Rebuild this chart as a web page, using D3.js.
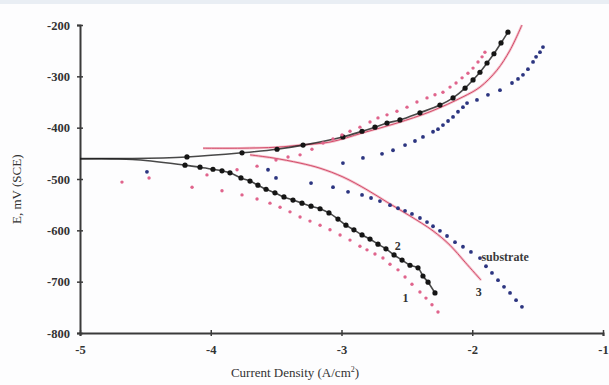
<!DOCTYPE html>
<html>
<head>
<meta charset="utf-8">
<script src="https://cdn.jsdelivr.net/npm/d3@7"></script>
<style>
  html, body { margin: 0; padding: 0; background: #f8fafc; }
  svg { display: block; }
  .tick text { font-family: "Liberation Serif", "Times New Roman", serif; font-weight: bold; font-size: 12.5px; fill: #333; }
</style>
</head>
<body>
<svg id="chart" width="609" height="385"></svg>
<script>
// Potentiodynamic polarization curves: log current density (A/cm²) vs potential (mV vs SCE)
const xTicks = [-5, -4, -3, -2, -1];
const xTickLabels = ["-5", "-4", "-3", "-2", "-1"];
const yTicks = [-200, -300, -400, -500, -600, -700, -800];
const yTickLabels = ["-200", "-300", "-400", "-500", "-600", "-700", "-800"];

// Coating 1 (dots)
const s1Anodic = [[-4.472,-498],[-4.029,-492],[-3.799,-482],[-3.646,-475],[-3.501,-463],[-3.409,-457],[-3.317,-453],[-3.226,-442],[-3.141,-430],[-3.065,-422],[-2.996,-414],[-2.935,-407],[-2.859,-399],[-2.782,-389],[-2.721,-381],[-2.652,-375],[-2.576,-368],[-2.499,-360],[-2.423,-350],[-2.346,-342],[-2.285,-336],[-2.224,-331],[-2.170,-321],[-2.124,-313],[-2.078,-303],[-2.033,-294],[-1.994,-284],[-1.956,-272],[-1.925,-262],[-1.903,-253]];
const s1Cathodic = [[-4.679,-506],[-4.143,-516],[-3.914,-523],[-3.761,-531],[-3.646,-539],[-3.547,-547],[-3.470,-555],[-3.394,-564],[-3.317,-574],[-3.241,-582],[-3.164,-590],[-3.088,-599],[-3.011,-609],[-2.935,-619],[-2.859,-631],[-2.805,-638],[-2.744,-646],[-2.683,-654],[-2.629,-666],[-2.568,-677],[-2.514,-691],[-2.461,-705],[-2.400,-720],[-2.354,-732],[-2.308,-745],[-2.262,-759]];

// Coating 2 (line with markers)
const s2Anodic = [[-5,-460],[-4.6,-460],[-4.182,-457],[-3.761,-449],[-3.493,-442],[-3.294,-434],[-2.989,-418],[-2.843,-407],[-2.744,-399],[-2.652,-391],[-2.553,-385],[-2.400,-371],[-2.247,-356],[-2.147,-342],[-2.055,-323],[-1.994,-307],[-1.941,-292],[-1.887,-274],[-1.834,-256],[-1.780,-235],[-1.727,-214]];
const s2Cathodic = [[-5,-461],[-4.6,-462],[-4.197,-473],[-4.082,-477],[-3.983,-481],[-3.914,-484],[-3.853,-488],[-3.769,-498],[-3.700,-504],[-3.639,-512],[-3.577,-520],[-3.509,-527],[-3.440,-535],[-3.371,-541],[-3.302,-547],[-3.233,-553],[-3.164,-558],[-3.096,-566],[-3.027,-578],[-2.966,-590],[-2.905,-599],[-2.843,-609],[-2.782,-617],[-2.721,-627],[-2.660,-636],[-2.598,-648],[-2.537,-658],[-2.476,-668],[-2.415,-673],[-2.377,-689],[-2.338,-701],[-2.285,-722]];

// Coating 3 (solid line)
const s3Anodic = [[-4.059,-440],[-3.776,-440],[-3.493,-438],[-3.317,-434],[-3.088,-428],[-2.836,-410],[-2.576,-391],[-2.323,-369],[-2.071,-340],[-1.941,-321],[-1.811,-288],[-1.711,-249],[-1.620,-200]];
const s3Cathodic = [[-3.700,-453],[-3.524,-459],[-3.317,-469],[-3.164,-479],[-2.989,-496],[-2.805,-521],[-2.652,-545],[-2.476,-572],[-2.300,-601],[-2.170,-629],[-2.055,-662],[-1.933,-697]];

// Uncoated substrate (dots)
const subAnodic = [[-4.488,-486],[-3.562,-482],[-2.989,-469],[-2.836,-459],[-2.690,-451],[-2.606,-444],[-2.514,-434],[-2.438,-426],[-2.377,-418],[-2.300,-408],[-2.262,-403],[-2.224,-395],[-2.185,-387],[-2.147,-379],[-2.109,-369],[-2.071,-360],[-2.040,-352],[-1.964,-346],[-1.880,-336],[-1.788,-327],[-1.696,-313],[-1.650,-305],[-1.612,-297],[-1.574,-286],[-1.535,-272],[-1.512,-262],[-1.482,-253],[-1.459,-243]];
const subCathodic = [[-3.501,-498],[-3.233,-508],[-3.065,-516],[-2.950,-525],[-2.843,-531],[-2.774,-537],[-2.706,-543],[-2.629,-551],[-2.568,-557],[-2.514,-562],[-2.461,-568],[-2.400,-576],[-2.346,-584],[-2.300,-592],[-2.247,-601],[-2.193,-611],[-2.132,-623],[-2.071,-632],[-2.010,-642],[-1.941,-654],[-1.895,-670],[-1.849,-683],[-1.803,-697],[-1.757,-710],[-1.711,-722],[-1.665,-736],[-1.620,-749]];

const svg = d3.select("#chart");
const W = 609, H = 385;

// soft page tint at the top edge
svg.append("rect").attr("x", 0).attr("y", 0).attr("width", W).attr("height", H).attr("fill", "#fdfdfe");
svg.append("rect").attr("x", 0).attr("y", 0).attr("width", W).attr("height", 4).attr("fill", "#e9eef4");

const x = d3.scaleLinear().domain([-5, -1]).range([80, 603]);
const y = d3.scaleLinear().domain([-800, -200]).range([333, 25]);

const smooth = d3.line().x(d => x(d[0])).y(d => y(d[1])).curve(d3.curveCatmullRom.alpha(0.5));

// Axes
const axisColor = "#3a3a3a";
const yAxis = svg.append("g").attr("transform", `translate(${x(-5)},0)`)
  .call(d3.axisLeft(y).tickValues(yTicks).tickFormat((d, i) => yTickLabels[i]).tickSize(3).tickPadding(7));
const yInner = svg.append("g").attr("transform", `translate(${x(-5)},0)`)
  .call(d3.axisRight(y).tickValues(yTicks).tickFormat("").tickSize(3));
const xAxis = svg.append("g").attr("transform", `translate(0,${y(-800)})`)
  .call(d3.axisBottom(x).tickValues(xTicks).tickFormat((d, i) => xTickLabels[i]).tickSize(3).tickPadding(9));
const xInner = svg.append("g").attr("transform", `translate(0,${y(-800)})`)
  .call(d3.axisTop(x).tickValues(xTicks).tickFormat("").tickSize(3));
[yAxis, yInner, xAxis, xInner].forEach(g => {
  g.select(".domain").attr("stroke", axisColor).attr("stroke-width", 2);
  g.selectAll(".tick line").attr("stroke", axisColor).attr("stroke-width", 1.5);
});
yInner.select(".domain").remove();
xInner.select(".domain").remove();

// Axis titles
svg.append("text")
  .attr("transform", `translate(21,${(y(-480) + y(-560)) / 2}) rotate(-90)`)
  .attr("text-anchor", "middle")
  .attr("font-family", "Liberation Serif, Times New Roman, serif")
  .attr("font-size", 13).attr("fill", "#333")
  .text("E, mV (SCE)");
const xt = svg.append("text")
  .attr("x", 295).attr("y", 377)
  .attr("text-anchor", "middle")
  .attr("font-family", "Liberation Serif, Times New Roman, serif")
  .attr("font-size", 13).attr("fill", "#333");
xt.append("tspan").text("Current Density (A/cm");
xt.append("tspan").attr("font-size", 8).attr("dy", -5).text("2");
xt.append("tspan").attr("dy", 5).text(")");

// Curves
const plot = svg.append("g");

// coating 3: thin red line with a light halo
[s3Anodic, s3Cathodic].forEach(s => {
  plot.append("path").datum(s).attr("d", smooth)
    .attr("fill", "none").attr("stroke", "#f4c0cb").attr("stroke-width", 2.6);
  plot.append("path").datum(s).attr("d", smooth)
    .attr("fill", "none").attr("stroke", "#d24c6a").attr("stroke-width", 1);
});

// coating 2: black line with markers
[s2Anodic, s2Cathodic].forEach(s => {
  plot.append("path").datum(s).attr("d", smooth)
    .attr("fill", "none").attr("stroke", "#1a1a1a").attr("stroke-width", 1.6).attr("stroke-opacity", 0.8);
  plot.append("g").selectAll("circle").data(s.filter(d => d[0] > -4.5)).join("circle")
    .attr("cx", d => x(d[0])).attr("cy", d => y(d[1])).attr("r", 2.6).attr("fill", "#151515");
});

// coating 1: pink dots
[s1Anodic, s1Cathodic].forEach(s => {
  plot.append("g").selectAll("circle").data(s).join("circle")
    .attr("cx", d => x(d[0])).attr("cy", d => y(d[1])).attr("r", 1.7).attr("fill", "#e0648c");
});

// substrate: navy dots
[subAnodic, subCathodic].forEach(s => {
  plot.append("g").selectAll("circle").data(s).join("circle")
    .attr("cx", d => x(d[0])).attr("cy", d => y(d[1])).attr("r", 1.9).attr("fill", "#2c3580");
});

// Curve labels
const lab = (t, lx, ly) => svg.append("text").attr("x", x(lx)).attr("y", y(ly))
  .attr("font-family", "Liberation Serif, Times New Roman, serif").attr("font-weight", "bold")
  .attr("font-size", 12).attr("fill", "#333").attr("text-anchor", "middle").text(t);
lab("1", -2.51, -740);
lab("2", -2.57, -638);
lab("3", -1.95, -728);
svg.append("text").attr("x", x(-1.93)).attr("y", y(-660))
  .attr("font-family", "Liberation Serif, Times New Roman, serif").attr("font-weight", "bold")
  .attr("font-size", 12).attr("fill", "#3a3a3a").text("substrate");
</script>
</body>
</html>
